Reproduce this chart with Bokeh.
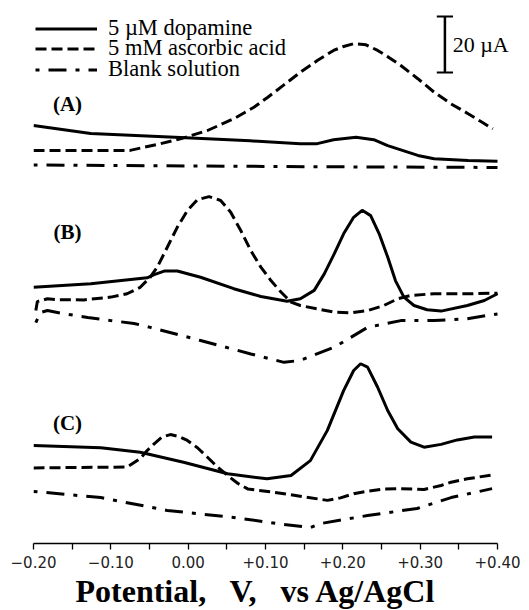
from bokeh.plotting import figure
from bokeh.models import Range1d, Legend, LegendItem, Label, FixedTicker, Title
from bokeh.embed import file_html
from bokeh.resources import INLINE

# ---------------- data (potential in V, current in µA incl. vertical offsets) ----------------
# Panel (A)
da_a_v = [-0.20, -0.126, -0.01, 0.08, 0.145, 0.167, 0.188, 0.217, 0.24, 0.258, 0.297, 0.318, 0.362, 0.40]
da_a_i = [149.3, 146.4, 145.0, 143.8, 142.8, 142.8, 144.2, 145.1, 144.2, 142.1, 138.6, 137.4, 136.8, 136.5]
aa_a_v = [-0.20, -0.075, -0.062, -0.040, -0.010, 0.025, 0.059, 0.085, 0.103, 0.123, 0.145, 0.167, 0.188,
          0.201, 0.214, 0.230, 0.245, 0.259, 0.275, 0.297, 0.318, 0.340, 0.362, 0.378, 0.394]
aa_a_i = [140.4, 140.4, 141.2, 142.5, 144.5, 147.5, 151.7, 155.8, 159.4, 163.6, 168.3, 172.5, 176.1,
          177.5, 178.5, 178.1, 176.1, 173.7, 170.7, 166.0, 161.2, 157.0, 153.5, 150.8, 148.1]
bl_a_v = [-0.20, 0.016, 0.21, 0.40]
bl_a_i = [135.2, 134.8, 134.5, 134.3]

# Panel (B)
da_b_v = [-0.20, -0.126, -0.053, -0.044, -0.031, -0.014, 0.016, 0.059, 0.094, 0.128, 0.145, 0.163, 0.176,
          0.189, 0.201, 0.214, 0.225, 0.236, 0.247, 0.258, 0.268, 0.279, 0.292, 0.309, 0.327, 0.361, 0.383, 0.40]
da_b_i = [91.5, 92.8, 94.9, 96.0, 97.3, 97.3, 95.1, 91.0, 88.2, 86.5, 87.4, 90.4, 96.3,
          103.5, 110.6, 116.5, 119.0, 117.1, 110.6, 102.3, 93.9, 88.0, 85.0, 83.5, 83.0, 85.0, 86.8, 89.2]
aa_b_v = [-0.197, -0.195, -0.182, -0.169, -0.135, -0.100, -0.079, -0.062, -0.049, -0.040, -0.027, -0.014,
          -0.001, 0.012, 0.027, 0.042, 0.055, 0.068, 0.081, 0.094, 0.107, 0.120, 0.133, 0.145, 0.167,
          0.189, 0.210, 0.232, 0.253, 0.271, 0.288, 0.318, 0.361, 0.40]
aa_b_i = [83.2, 86.4, 87.4, 87.1, 87.0, 88.0, 89.2, 91.5, 95.1, 98.7, 105.8, 113.0,
          118.9, 122.8, 123.9, 122.5, 118.3, 111.8, 104.6, 98.7, 93.9, 89.8, 86.2, 85.0, 83.8,
          82.6, 82.4, 83.2, 85.0, 87.4, 88.6, 89.2, 89.2, 89.4]
bl_b_v = [-0.197, -0.191, -0.182, -0.161, -0.130, -0.100, -0.070, -0.049, 0.016, 0.081, 0.124, 0.145,
          0.189, 0.232, 0.275, 0.318, 0.361, 0.40]
bl_b_i = [78.9, 82.5, 83.2, 82.1, 80.7, 79.6, 78.6, 77.2, 72.5, 67.7, 64.7, 65.4,
          70.1, 77.2, 79.6, 79.6, 80.3, 82.0]

# Panel (C)
da_c_v = [-0.20, -0.113, -0.062, -0.006, 0.051, 0.102, 0.133, 0.158, 0.180, 0.201, 0.214, 0.223, 0.232,
          0.245, 0.258, 0.271, 0.288, 0.305, 0.327, 0.348, 0.370, 0.393]
da_c_i = [35.0, 34.2, 32.6, 29.0, 24.9, 23.1, 24.3, 29.6, 40.4, 54.6, 61.8, 64.2, 63.0,
          55.8, 47.5, 41.0, 36.2, 34.4, 35.4, 37.0, 38.0, 38.0]
aa_c_v = [-0.20, -0.079, -0.062, -0.053, -0.044, -0.034, -0.023, -0.012, -0.001, 0.012, 0.025, 0.038,
          0.051, 0.064, 0.077, 0.124, 0.180, 0.197, 0.214, 0.232, 0.253, 0.275, 0.305, 0.327, 0.340,
          0.361, 0.393]
aa_c_i = [27.0, 27.3, 30.3, 33.2, 35.6, 38.0, 38.9, 38.2, 36.8, 34.2, 30.8, 27.3,
          24.3, 21.5, 19.5, 17.8, 15.4, 16.3, 17.8, 18.7, 19.5, 19.6, 19.3, 20.7, 21.9,
          23.1, 24.5]
bl_c_v = [-0.20, -0.113, -0.027, 0.059, 0.124, 0.158, 0.171, 0.232, 0.296, 0.340, 0.393]
bl_c_i = [18.6, 16.4, 11.8, 9.3, 6.8, 5.7, 7.1, 10.0, 12.5, 16.4, 19.6]

series_labels = ["5 µM dopamine", "5 mM ascorbic acid", "Blank solution"]
panel_labels = ["(A)", "(B)", "(C)"]
panel_label_i = [156.8, 111.1, 43.2]
tick_values = [-0.20, -0.10, 0.00, 0.10, 0.20, 0.30, 0.40]
tick_labels = ["\u22120.20", "\u22120.10", "0.00", "+0.10", "+0.20", "+0.30", "+0.40"]
minor_tick_values = [-0.15, -0.05, 0.05, 0.15, 0.25, 0.35]
scale_bar_ua = 20
x_title = "Potential,\u00a0\u00a0 V,\u00a0\u00a0 vs Ag/AgCl"

# ---------------- figure ----------------
# 773.33 px per volt, 2.8 px per µA
p = figure(frame_width=496, frame_height=543, output_backend="svg", toolbar_location=None,
           x_range=Range1d(-0.20, 0.44138), y_range=Range1d(0, 193.93),
           y_axis_location=None, min_border_left=33, min_border_right=0,
           min_border_top=0, min_border_bottom=67)
p.grid.visible = False
p.outline_line_color = None
p.background_fill_color = "white"

solid = dict(line_color="black", line_width=3)
dashed = dict(line_color="black", line_width=3, line_dash="11 5")
dashdot = dict(line_color="black", line_width=3, line_dash="4 9 18 9")

r_da = p.line(da_a_v, da_a_i, **solid)
r_aa = p.line(aa_a_v, aa_a_i, **dashed)
r_bl = p.line(bl_a_v, bl_a_i, **dashdot)
p.line(da_b_v, da_b_i, **solid)
p.line(aa_b_v, aa_b_i, **dashed)
p.line(bl_b_v, bl_b_i, **dashdot)
p.line(da_c_v, da_c_i, **solid)
p.line(aa_c_v, aa_c_i, **dashed)
p.line(bl_c_v, bl_c_i, **dashdot)

# x axis
ax = p.xaxis[0]
ax.bounds = (tick_values[0], tick_values[-1])
ax.ticker = FixedTicker(ticks=tick_values, minor_ticks=minor_tick_values)
ax.major_label_overrides = dict(zip(tick_values, tick_labels))
ax.axis_line_width = 1.3
ax.major_tick_line_width = 1.3
ax.minor_tick_line_width = 1.3
ax.major_tick_in = 0
ax.major_tick_out = 6
ax.minor_tick_in = 0
ax.minor_tick_out = 6
ax.major_label_standoff = 6
ax.major_label_text_font = "DejaVu Sans"
ax.major_label_text_font_size = "15px"
ax.major_label_text_color = "#222222"

# axis title, centred under the -0.20 .. +0.40 span
p.add_layout(Title(text=x_title, align="left", offset=42, standoff=0,
                   text_font="Liberation Serif", text_font_style="bold", text_font_size="32px",
                   text_color="black"), "below")

# panel labels
for lab, yi in zip(panel_labels, panel_label_i):
    p.add_layout(Label(x=-0.156, y=yi, text=lab, text_font="Liberation Serif", text_font_style="bold",
                       text_font_size="21px", text_align="center", text_baseline="middle",
                       text_color="black"))

# scale bar
sb_x = 0.332
sb_y0 = 168.2
cap = 0.0105
p.segment(x0=[sb_x], y0=[sb_y0], x1=[sb_x], y1=[sb_y0 + scale_bar_ua], line_color="black", line_width=2.5)
p.segment(x0=[sb_x - cap, sb_x - cap], y0=[sb_y0, sb_y0 + scale_bar_ua],
          x1=[sb_x + cap, sb_x + cap], y1=[sb_y0, sb_y0 + scale_bar_ua], line_color="black", line_width=2)
p.add_layout(Label(x=0.342, y=sb_y0 + scale_bar_ua / 2, text=f"{scale_bar_ua} µA",
                   text_font="Liberation Serif", text_font_size="22px", text_align="left",
                   text_baseline="middle", text_color="black"))

# legend: one row per Legend so that the row pitch matches the original
row_locs = [502, 482, 461]
for lab, rend, yloc in zip(series_labels, [r_da, r_aa, r_bl], row_locs):
    lg = Legend(items=[LegendItem(label=lab, renderers=[rend])],
                location=(2, yloc), orientation="vertical", glyph_width=62, glyph_height=21,
                label_height=21, label_standoff=11, spacing=0, padding=0, margin=0,
                border_line_color=None, background_fill_alpha=0,
                label_text_font="Liberation Serif", label_text_font_size="22.5px",
                label_text_color="black")
    p.add_layout(lg)

open("out.html", "w").write(file_html(p, INLINE))
